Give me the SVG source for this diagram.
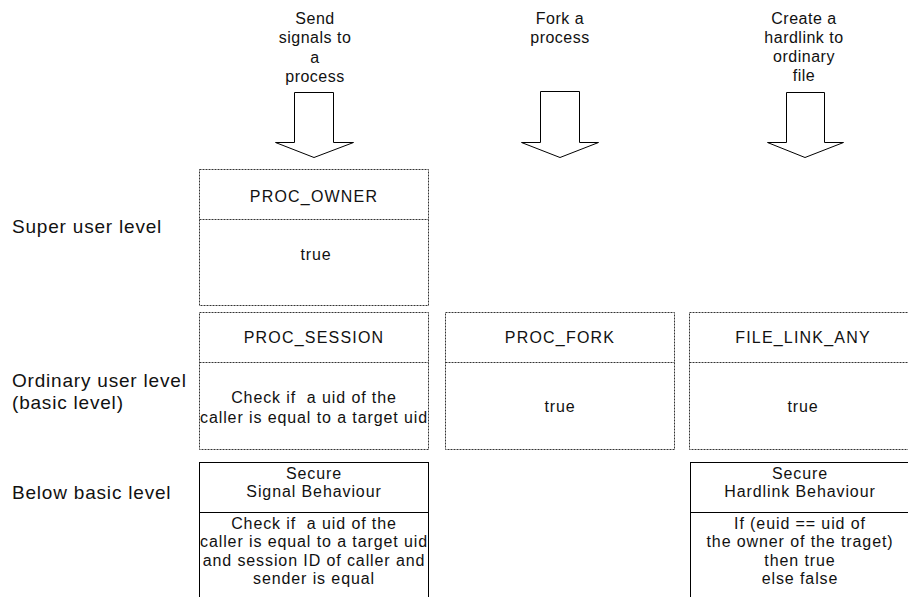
<svg xmlns="http://www.w3.org/2000/svg" width="908" height="597" viewBox="0 0 908 597">
  <style>
    text { font-family: "Liberation Sans", Arial, sans-serif; fill: #111; white-space: pre; }
    .lvl { font-size: 19px; letter-spacing: 0.8px; }
    .top { font-size: 16px; letter-spacing: 0.5px; text-anchor: middle; }
    .ttl { font-size: 16px; letter-spacing: 1.2px; text-anchor: middle; }
    .body { font-size: 16px; letter-spacing: 0.9px; text-anchor: middle; }
    .dot { fill: #fff; stroke: #333; stroke-width: 1; stroke-dasharray: 2 1; }
    .dotline { stroke: #333; stroke-width: 1; stroke-dasharray: 2 1; }
    .solid { fill: #fff; stroke: #000; stroke-width: 1; }
    .arrow { fill: #fff; stroke: #000; stroke-width: 1; stroke-linejoin: miter; }
  </style>

  <rect width="908" height="597" fill="#fff"/>

  <!-- level labels -->
  <g id="levels">
    <text class="lvl" x="12" y="233">Super user level</text>
    <text class="lvl" x="12" y="387">Ordinary user level</text>
    <text class="lvl" x="12" y="409">(basic level)</text>
    <text class="lvl" x="12" y="499">Below basic level</text>
  </g>

  <!-- operation headings -->
  <g id="op-signal">
    <text class="top" x="315" y="24">Send</text>
    <text class="top" x="315" y="43">signals to</text>
    <text class="top" x="315" y="63">a</text>
    <text class="top" x="315" y="82">process</text>
  </g>
  <g id="op-fork">
    <text class="top" x="560" y="24">Fork a</text>
    <text class="top" x="560" y="43">process</text>
  </g>
  <g id="op-link">
    <text class="top" x="804" y="24">Create a</text>
    <text class="top" x="804" y="43">hardlink to</text>
    <text class="top" x="804" y="62">ordinary</text>
    <text class="top" x="804" y="81">file</text>
  </g>

  <!-- block arrows -->
  <g id="connectors">
    <polygon class="arrow" points="294.5,92.5 333.5,92.5 333.5,142.5 353.5,142.5 314,157.5 275.5,142.5 294.5,142.5"/>
    <polygon class="arrow" points="540.5,91.5 579.5,91.5 579.5,142.5 598.5,142.5 560,157.5 521.5,142.5 540.5,142.5"/>
    <polygon class="arrow" points="786.5,92.5 824.5,92.5 824.5,142.5 843.5,142.5 805,157.5 767.5,142.5 786.5,142.5"/>
  </g>

  <!-- super user level -->
  <g id="proc-owner">
    <rect class="dot" x="199.5" y="169.5" width="229" height="136"/>
    <line class="dotline" x1="199.5" y1="219.5" x2="428.5" y2="219.5"/>
    <text class="ttl" x="314" y="202">PROC_OWNER</text>
    <text class="body" x="316" y="260">true</text>
  </g>

  <!-- ordinary user level -->
  <g id="proc-session">
    <rect class="dot" x="199.5" y="312.5" width="229" height="137"/>
    <line class="dotline" x1="199.5" y1="362.5" x2="428.5" y2="362.5"/>
    <text class="ttl" x="314" y="343">PROC_SESSION</text>
    <text class="body" x="314" y="403" xml:space="preserve">Check if  a uid of the</text>
    <text class="body" x="314" y="423">caller is equal to a target uid</text>
  </g>
  <g id="proc-fork">
    <rect class="dot" x="445.5" y="312.5" width="229" height="137"/>
    <line class="dotline" x1="445.5" y1="362.5" x2="674.5" y2="362.5"/>
    <text class="ttl" x="560" y="343">PROC_FORK</text>
    <text class="body" x="560" y="412">true</text>
  </g>
  <g id="file-link-any">
    <rect class="dot" x="689.5" y="312.5" width="229" height="137"/>
    <line class="dotline" x1="689.5" y1="362.5" x2="918.5" y2="362.5"/>
    <text class="ttl" x="803" y="343">FILE_LINK_ANY</text>
    <text class="body" x="803" y="412">true</text>
  </g>

  <!-- below basic level -->
  <g id="secure-signal">
    <rect class="solid" x="199.5" y="462.5" width="229" height="150"/>
    <line stroke="#000" x1="199.5" y1="512.5" x2="428.5" y2="512.5"/>
    <text class="body" x="314" y="479">Secure</text>
    <text class="body" x="314" y="497">Signal Behaviour</text>
    <text class="body" x="314" y="529" xml:space="preserve">Check if  a uid of the</text>
    <text class="body" x="314" y="547">caller is equal to a target uid</text>
    <text class="body" x="314" y="566">and session ID of caller and</text>
    <text class="body" x="314" y="584">sender is equal</text>
  </g>
  <g id="secure-hardlink">
    <rect class="solid" x="690.5" y="462.5" width="229" height="150"/>
    <line stroke="#000" x1="690.5" y1="512.5" x2="919.5" y2="512.5"/>
    <text class="body" x="800" y="479">Secure</text>
    <text class="body" x="800" y="497">Hardlink Behaviour</text>
    <text class="body" x="800" y="529">If (euid == uid of</text>
    <text class="body" x="800" y="547">the owner of the traget)</text>
    <text class="body" x="800" y="566">then true</text>
    <text class="body" x="800" y="584">else false</text>
  </g>
</svg>
